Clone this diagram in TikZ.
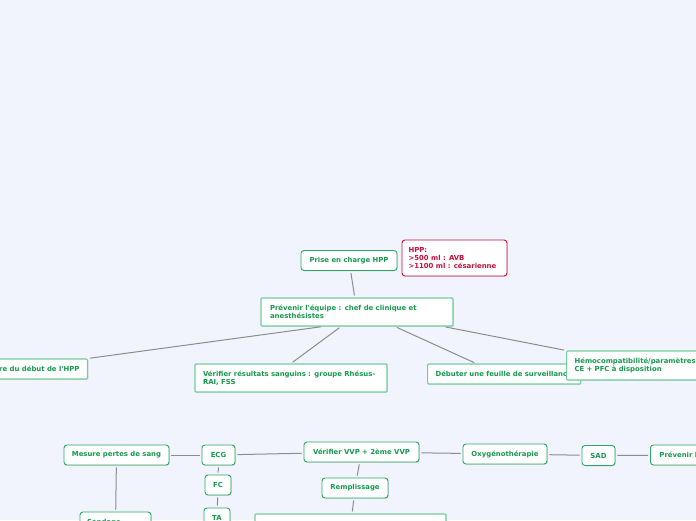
\documentclass[tikz,border=0pt]{standalone}
\usepackage{fontspec}
\newfontfamily\mapfont{DejaVu Sans}
\usetikzlibrary{shadows}
\definecolor{bgblue}{HTML}{F2F4FD}
\definecolor{txtgreen}{HTML}{16994E}
\definecolor{subgreen}{HTML}{2BA865}
\definecolor{topicgreen}{HTML}{72CF9C}
\definecolor{notered}{HTML}{C4103A}
\definecolor{linkgray}{HTML}{8C8C90}

\begin{document}
\begin{tikzpicture}[
  x=1pt,y=-1pt,
  font=\mapfont\bfseries\fontsize{6.9}{8.4}\selectfont,
  box/.style={draw,fill=white,text=txtgreen,inner sep=0pt,
    drop shadow={shadow xshift=0.8pt,shadow yshift=-0.8pt,opacity=0.25}},
  topic/.style={box,draw=topicgreen,line width=1.1pt,rounded corners=1pt,
    align=left,text width=#1},
  sub/.style={box,draw=subgreen,line width=0.9pt,rounded corners=3pt,
    minimum height=20pt,minimum width=#1},
  note/.style={box,draw=notered,text=notered,line width=0.9pt,
    rounded corners=3pt,align=left,minimum width=105pt,minimum height=36pt},
  link/.style={draw=linkgray,line width=1pt,shorten <=2pt,shorten >=2pt}
]
\useasboundingbox (0,0) rectangle (696,520);
\fill[bgblue] (0,0) rectangle (696,520);
\clip (0,0) rectangle (696,520);

% upper part
\node[sub=96pt] (prise) at (349,260.5) {Prise en charge HPP};
\node[note] (hpp) at (454.5,258)
 {\parbox{92pt}{HPP:\\ >500 ml : AVB\\ >1100 ml : césarienne}};
\node[topic=174pt,minimum height=28pt,inner xsep=9pt] (equipe) at (357,312)
 {Prévenir l'équipe : chef de clinique et\\ anesthésistes};
\node[topic=176pt,minimum height=28pt,inner xsep=8pt] (sang) at (291,378)
 {Vérifier résultats sanguins : groupe Rhésus-\\RAI, FSS};
\node[box,draw=topicgreen,line width=1.1pt,rounded corners=1pt,minimum height=20pt,
  inner xsep=8pt,anchor=east] (heure) at (88,369)
 {Noter l'heure du début de l'HPP};
\node[topic=137pt,minimum height=20pt,inner xsep=8pt,anchor=west] (feuille) at (427,374)
 {Débuter une feuille de surveillance};
\node[topic=140pt,minimum height=29pt,inner xsep=8pt,anchor=west] (hemo) at (566,365.5)
 {Hémocompatibilité/paramètres\\ CE + PFC à disposition};

\draw[link] (prise) -- (equipe);
\draw[link] (equipe.203) -- (heure.north east);
\draw[link] (equipe.south) ++(-16pt,0) coordinate (e1) (e1) -- (sang.north);
\draw[link] (equipe.south) ++(38pt,0) coordinate (e3) (e3) -- (feuille.north -| 476,0);
\draw[link] (equipe.south east) ++(-10pt,0) coordinate (e2) (e2) -- (hemo.north west);

% lower part
\node[sub=105pt] (pertes) at (116.5,455) {Mesure pertes de sang};
\node[sub=33pt] (ecg) at (218.5,455) {ECG};
\node[sub=115pt] (vvp) at (361.5,452) {Vérifier VVP + 2ème VVP};
\node[sub=84pt] (oxy) at (505,454) {Oxygénothérapie};
\node[sub=33pt] (sad) at (598.5,455.5) {SAD};
\node[sub=100pt,anchor=west,inner xsep=9pt] (hypo) at (650,455)
 {Prévenir l'hypothermie};
\node[sub=26pt] (fc) at (218,485) {FC};
\node[sub=26pt] (ta) at (217,518) {TA};
\node[sub=66pt] (rempl) at (355,488) {Remplissage};
\node[topic=191pt,minimum height=28pt] (transf) at (350.5,528) {};
\node[sub=71pt,minimum height=28pt,text width=57pt,align=left] (sond) at (115.5,526)
 {Sondage\\ urinaire};

\draw[link] (pertes) -- (ecg);
\draw[link] (ecg) -- (vvp);
\draw[link] (vvp) -- (oxy);
\draw[link] (oxy) -- (sad);
\draw[link] (sad) -- (hypo);
\draw[link] (ecg) -- (fc);
\draw[link] (fc) -- (ta);
\draw[link] (vvp) -- (rempl);
\draw[link] (rempl) -- (transf);
\draw[link] (pertes) -- (sond);
\end{tikzpicture}
\end{document}
